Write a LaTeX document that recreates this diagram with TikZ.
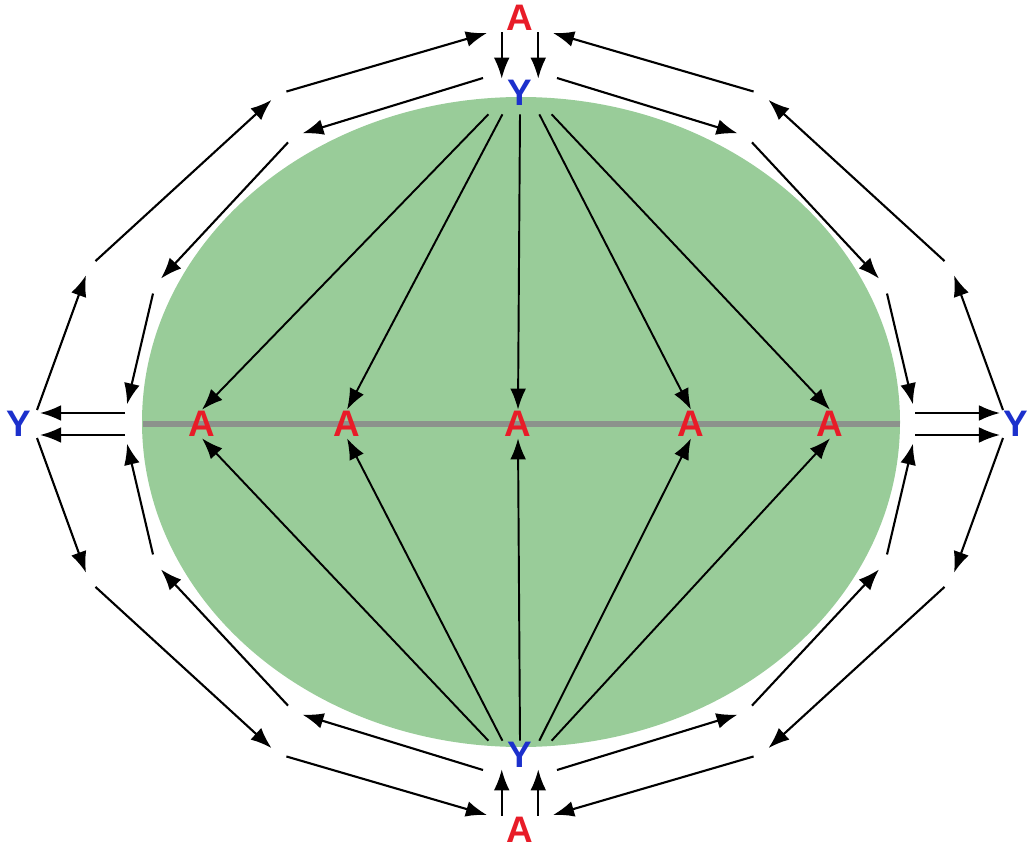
\documentclass[tikz,border=0pt]{standalone}
\usepackage{fontspec}
\setmainfont{Liberation Sans}
\usetikzlibrary{arrows.meta}

\definecolor{cellgreen}{RGB}{153,204,153}
\definecolor{platecol}{RGB}{140,146,140}
\definecolor{ared}{RGB}{232,28,40}
\definecolor{yblue}{RGB}{28,48,204}

\tikzset{
  lab/.style={font=\fontsize{21}{24}\selectfont\bfseries, inner sep=0pt,
    minimum width=20.4pt, minimum height=15.9pt},
  alab/.style={lab, text=ared},
  ylab/.style={lab, text=yblue},
  ring/.style={-{Latex[length=12pt,width=9pt]}, line width=1.2pt},
  spoke/.style={ring, line width=1.1pt},
  gapin/.style={shorten <=5pt},
  gapout/.style={shorten >=5pt}
}

\begin{document}
\begin{tikzpicture}[x=0.02cm,y=-0.02cm]
\useasboundingbox (0,0) rectangle (1031,858);

% Cell body and equatorial plate
\fill[cellgreen] (521,422) ellipse [x radius=379, y radius=325];
\draw[platecol, line width=3pt] (143,424) -- (900,424);

% Poles and sides
\node[alab] (At) at (520,18) {A};
\node[ylab] (Yt) at (520,93) {Y};
\node[ylab] (Yb) at (520,755) {Y};
\node[alab] (Ab) at (520,830) {A};
\node[ylab] (Yl) at (19,424) {Y};
\node[ylab] (Yr) at (1016,424) {Y};

% A's on the plate
\foreach \x [count=\i] in {202,347,518,691,830}
  \node[alab] (A\i) at (\x,424) {A};

% Spindle arrows
\foreach \dx [count=\i] in {-18pt,-10pt,0pt,11pt,18pt} {
  \draw[spoke] ([shift={(\dx,-4pt)}]Yt.south) -- (A\i.north);
  \draw[spoke] ([shift={(\dx,0pt)}]Yb.north) -- (A\i.south);
}

% Pole A -> pole Y
\draw[ring] (At.south west) -- (At.south west |- Yt.north);
\draw[ring] (At.south east) -- (At.south east |- Yt.north);
\draw[ring] (Ab.north west) -- (Ab.north west |- Yb.south);
\draw[ring] (Ab.north east) -- (Ab.north east |- Yb.south);

% Rings, one quadrant at a time
\foreach \sx/\sy/\q in {1/1/nw,-1/1/ne,1/-1/sw,-1/-1/se}{
  \begin{scope}[shift={(520,424)},xscale=\sx,yscale=\sy]
    % outer ring
    \coordinate (os\q) at (-483,-14);
    \coordinate (oa\q) at (-431,-157);
    \coordinate (ob\q) at (-242,-330);
    \coordinate (op\q) at (-33,-391);
    % inner ring
    \coordinate (ip\q) at (-37,-346);
    \coordinate (ia\q) at (-226,-288);
    \coordinate (ib\q) at (-365,-139);
    \coordinate (ic\q) at (-395,-11);
    \coordinate (is\q) at (-480,-11);
  \end{scope}
  \draw[ring,gapout] (os\q) -- (oa\q);
  \draw[ring,gapin,gapout] (oa\q) -- (ob\q);
  \draw[ring,gapin] (ob\q) -- (op\q);
  \draw[ring,gapout] (ip\q) -- (ia\q);
  \draw[ring,gapin,gapout] (ia\q) -- (ib\q);
  \draw[ring,gapin,gapout] (ib\q) -- (ic\q);
  \draw[ring] (ic\q) -- (is\q);
}

\end{tikzpicture}
\end{document}
